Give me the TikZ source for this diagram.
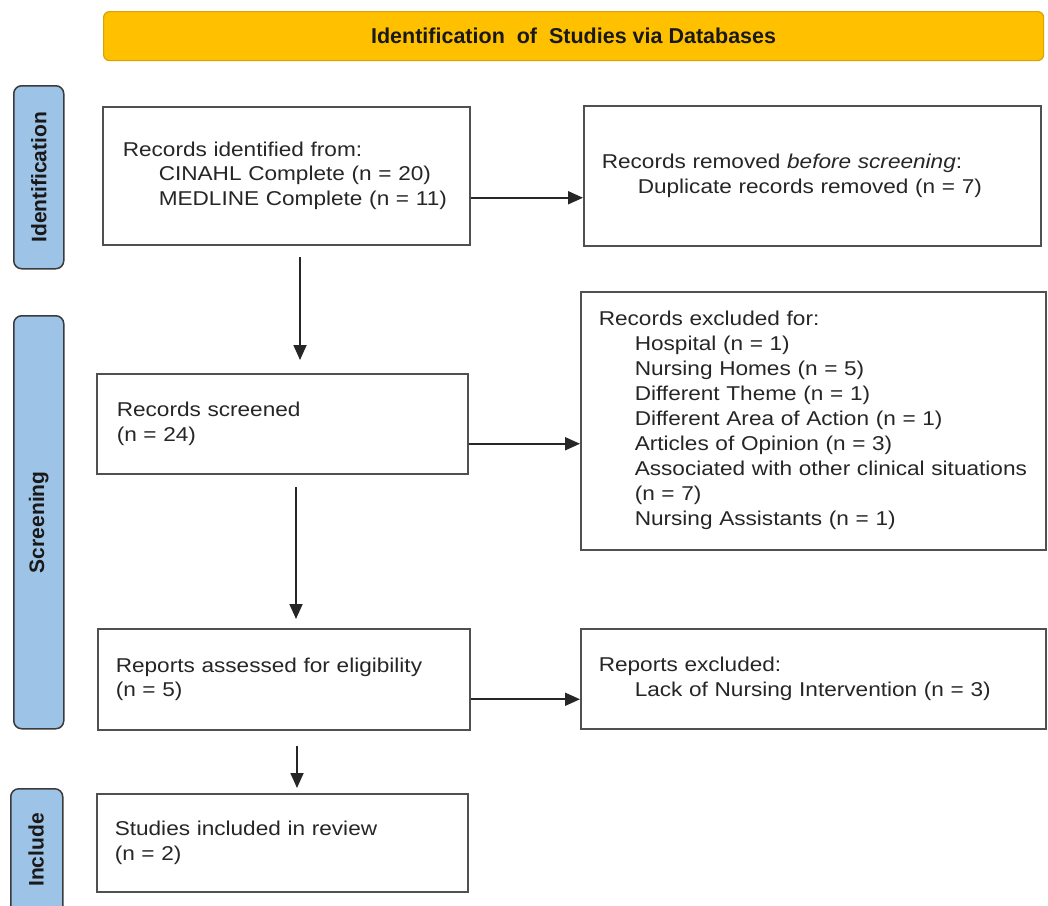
\documentclass[tikz,border=0pt]{standalone}
\usepackage{fontspec}
\setmainfont{Liberation Sans}
\newfontfamily\bodyfont[FakeStretch=1.13]{Liberation Sans}
\usetikzlibrary{arrows.meta,calc}
\definecolor{tabblue}{HTML}{9DC3E6}
\definecolor{taborder}{HTML}{3A3A3A}
\definecolor{bannerfill}{HTML}{FFC000}
\definecolor{bannerdraw}{HTML}{D9A300}
\definecolor{boxdraw}{HTML}{505050}
\definecolor{txt}{HTML}{262626}
\tikzset{
  box/.style={draw=boxdraw, line width=1.5pt, fill=white, anchor=north west,
    inner xsep=0pt, inner ysep=0pt, align=left, text=txt,
    font=\bodyfont\fontsize{20}{24.5}\selectfont},
  tab/.style={draw=taborder, fill=tabblue, line width=1.5pt, rounded corners=8pt,
    anchor=north west, inner sep=0pt},
  tablabel/.style={rotate=90, font=\bfseries\fontsize{21}{24}\selectfont, text=black!90},
  arr/.style={draw=black!85, line width=1.8pt, -{Triangle[length=15pt,width=13pt]}}
}
\newcommand{\ind}{\hspace*{36pt}}
\begin{document}
\begin{tikzpicture}[x=1pt,y=-1pt]
\useasboundingbox (0,0) rectangle (1048,905);
\clip (0,0) rectangle (1048,905);

% banner
\node[draw=bannerdraw, fill=bannerfill, line width=1.2pt, rounded corners=6pt,
  anchor=north west, minimum width=940pt, minimum height=49pt, inner sep=0pt,
  font=\bfseries\fontsize{21.5}{26}\selectfont, text=black!90] (banner) at (103,11)
  {Identification\ \ of\ \ Studies via Databases};

% stage tabs
\node[tab, minimum width=50pt, minimum height=183pt] (tabid) at (13,85) {};
\node[tablabel] (lblid) at (tabid.center) {Identification};
\node[tab, minimum width=50pt, minimum height=413pt] (tabsc) at (13,315) {};
\node[tablabel] (lblsc) at (tabsc.center) {Screening};
\node[tab, minimum width=52pt, minimum height=140pt] (tabin) at (10,788) {};
\node[tablabel] (lblin) at (36,850) {Include};

% boxes
\node[box, minimum width=367pt, minimum height=138pt, text width=327pt] (ident) at (102,106)
  {Records identified from:\\ \ind CINAHL Complete (n = 20)\\ \ind MEDLINE Complete (n = 11)};
\node[box, minimum width=457pt, minimum height=140pt, text width=421pt] (removed) at (583,105)
  {Records removed \textit{before screening}:\\ \ind Duplicate records removed (n = 7)};
\node[box, minimum width=371pt, minimum height=100pt, text width=331pt] (screened) at (96,373)
  {Records screened\\ (n = 24)};
\node[box, minimum width=465pt, minimum height=258pt, text width=429pt,
  font=\bodyfont\fontsize{20}{25}\selectfont] (excluded) at (580,291)
  {Records excluded for:\\ \ind Hospital (n = 1)\\ \ind Nursing Homes (n = 5)\\
   \ind Different Theme (n = 1)\\ \ind Different Area of Action (n = 1)\\
   \ind Articles of Opinion (n = 3)\\ \ind Associated with other clinical situations\\
   \ind (n = 7)\\ \ind Nursing Assistants (n = 1)};
\node[box, minimum width=372pt, minimum height=101pt, text width=336pt] (assessed) at (97,628)
  {Reports assessed for eligibility\\ (n = 5)};
\node[box, minimum width=465pt, minimum height=100pt, text width=429pt] (repexcl) at (580,628)
  {Reports excluded:\\ \ind Lack of Nursing Intervention (n = 3)};
\node[box, minimum width=371pt, minimum height=98pt, text width=335pt] (included) at (96,793)
  {Studies included in review\\ (n = 2)};

% vertical connector ends
\coordinate (v1s) at (300,257);
\coordinate (v1e) at (300,360);
\coordinate (v2s) at (296,487);
\coordinate (v2e) at (296,619);
\coordinate (v3s) at (297,746);
\coordinate (v3e) at (297,788);

% connectors
\draw[arr] ([yshift=-22pt]ident.east) -- ([yshift=-22pt]ident.east -| removed.west);
\draw[arr] ([yshift=-20pt]screened.east) -- ([yshift=-20pt]screened.east -| excluded.west);
\draw[arr] ([yshift=-20pt]assessed.east) -- ([yshift=-20pt]assessed.east -| repexcl.west);
\draw[arr] (v1s) -- (v1e);
\draw[arr] (v2s) -- (v2e);
\draw[arr] (v3s) -- (v3e);
\end{tikzpicture}
\end{document}
